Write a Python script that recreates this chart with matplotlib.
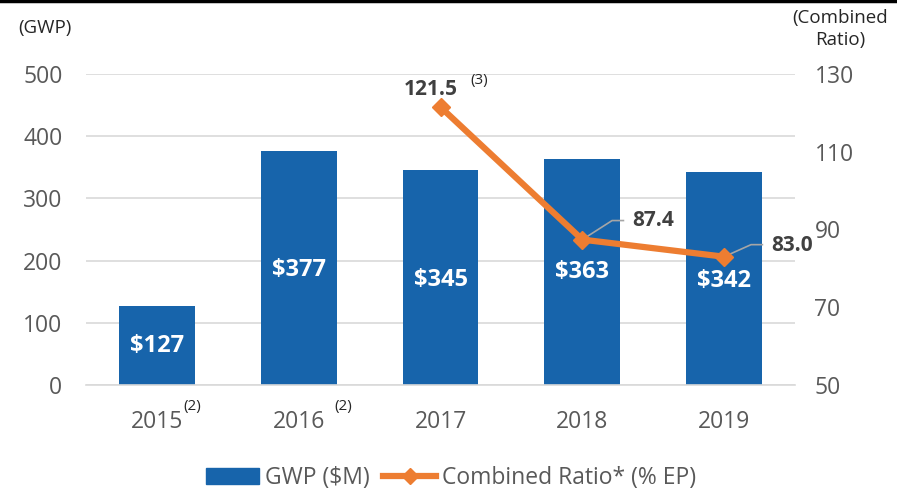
import matplotlib
matplotlib.use("Agg")
import matplotlib.pyplot as plt
from matplotlib.lines import Line2D
from matplotlib.patches import Patch

years = ["2015", "2016", "2017", "2018", "2019"]
gwp = [127, 377, 345, 363, 342]
cr_years = ["2017", "2018", "2019"]
cr = [121.5, 87.4, 83.0]

plt.rcParams['font.family'] = ['Open Sans', 'DejaVu Sans']

W, H = 897, 491
fig = plt.figure(figsize=(W/100, H/100), dpi=100)
ax = fig.add_axes([86/W, 1-385/H, (795-86)/W, (385-74)/H])
ax2 = ax.twinx()

blue = "#1764AB"
orange = "#ED7D31"
grey_t = "#595959"
dark = "#404040"

x = list(range(len(years)))
ax.bar(x, gwp, width=0.535, color=blue, zorder=2)
ax.set_ylim(0, 500)
ax.set_xlim(-0.5, 4.5)
ax.set_yticks([0, 100, 200, 300, 400, 500])
ax.grid(axis='y', color="#D9D9D9", lw=1.2, zorder=0)
ax.set_axisbelow(True)
for s in ['top', 'right', 'left']:
    ax.spines[s].set_visible(False)
ax.spines['bottom'].set_color("#D9D9D9")
ax.spines['bottom'].set_linewidth(1.2)
ax.tick_params(axis='y', length=0, labelsize=16.5, labelcolor=grey_t, pad=17)
ax.tick_params(axis='x', length=0, labelsize=16.5, labelcolor=grey_t, pad=18)
ax.set_xticks(x)
ax.set_xticklabels(years)

label_y = [62, 185, 169, 182, 167]
for xi, v, ly in zip(x, gwp, label_y):
    ax.text(xi, ly, f"${v}", ha='center', va='center', color='white',
            fontsize=17, fontweight='bold', zorder=4)

# superscripts on tick labels
ax.text(0.19, -0.07, "(2)", transform=ax.get_xaxis_transform(), fontsize=11,
        color="#262626", ha='left', va='center')
ax.text(1.25, -0.07, "(2)", transform=ax.get_xaxis_transform(), fontsize=11,
        color="#262626", ha='left', va='center')

cx = [years.index(y) for y in cr_years]
ax2.plot(cx, cr, color=orange, lw=4.5, marker='D', ms=9, zorder=5)
ax2.set_ylim(50, 130)
ax2.set_yticks([50, 70, 90, 110, 130])
for s in ['top', 'right', 'left', 'bottom']:
    ax2.spines[s].set_visible(False)
ax2.tick_params(axis='y', length=0, labelsize=16.5, labelcolor=grey_t, pad=14)

# data labels
ax2.text(cx[0] + 0.12, cr[0] + 4.6, f"{cr[0]:.1f}", ha='right', va='center',
         fontsize=15, fontweight='bold', color=dark)
ax2.text(cx[0] + 0.21, cr[0] + 6.7, "(3)", ha='left', va='center',
         fontsize=11, color="#262626")
# leader lines
ax2.plot([cx[1], cx[1] + 0.21, cx[1] + 0.29], [cr[1], cr[1] + 4.9, cr[1] + 4.9],
         color="#A6A6A6", lw=1.2, zorder=4)
ax2.text(cx[1] + 0.35, cr[1] + 4.9, f"{cr[1]:.1f}", ha='left', va='center',
         fontsize=15, fontweight='bold', color=dark)
ax2.plot([cx[2], cx[2] + 0.19, cx[2] + 0.27], [cr[2], cr[2] + 3.1, cr[2] + 3.1],
         color="#A6A6A6", lw=1.2, zorder=4)
ax2.text(cx[2] + 0.33, cr[2] + 2.8, f"{cr[2]:.1f}", ha='left', va='center',
         fontsize=15, fontweight='bold', color=dark)

fig.text(18/W, 1-28/H, "(GWP)", fontsize=13.5, color="#262626", va='center', ha='left')
fig.text(840/W, 1-29/H, "(Combined\nRatio)", fontsize=13.5, color="#262626",
         va='center', ha='center', linespacing=1.25)

handles = [Patch(color=blue, label="GWP ($M)"),
           Line2D([0], [0], color=orange, lw=4.5, marker='D', ms=8, label="Combined Ratio* (% EP)")]
fig.legend(handles=handles, loc='center', bbox_to_anchor=(451/W, 1-478/H), ncol=2,
           frameon=False, fontsize=16.5, labelcolor=grey_t, handlelength=2.3,
           handletextpad=0.27, columnspacing=0.6, borderpad=0, borderaxespad=0)

fig.add_artist(Line2D([0, 1], [1-1/H, 1-1/H], color='black', lw=2.5, transform=fig.transFigure))

fig.savefig("out.png", dpi=100)
